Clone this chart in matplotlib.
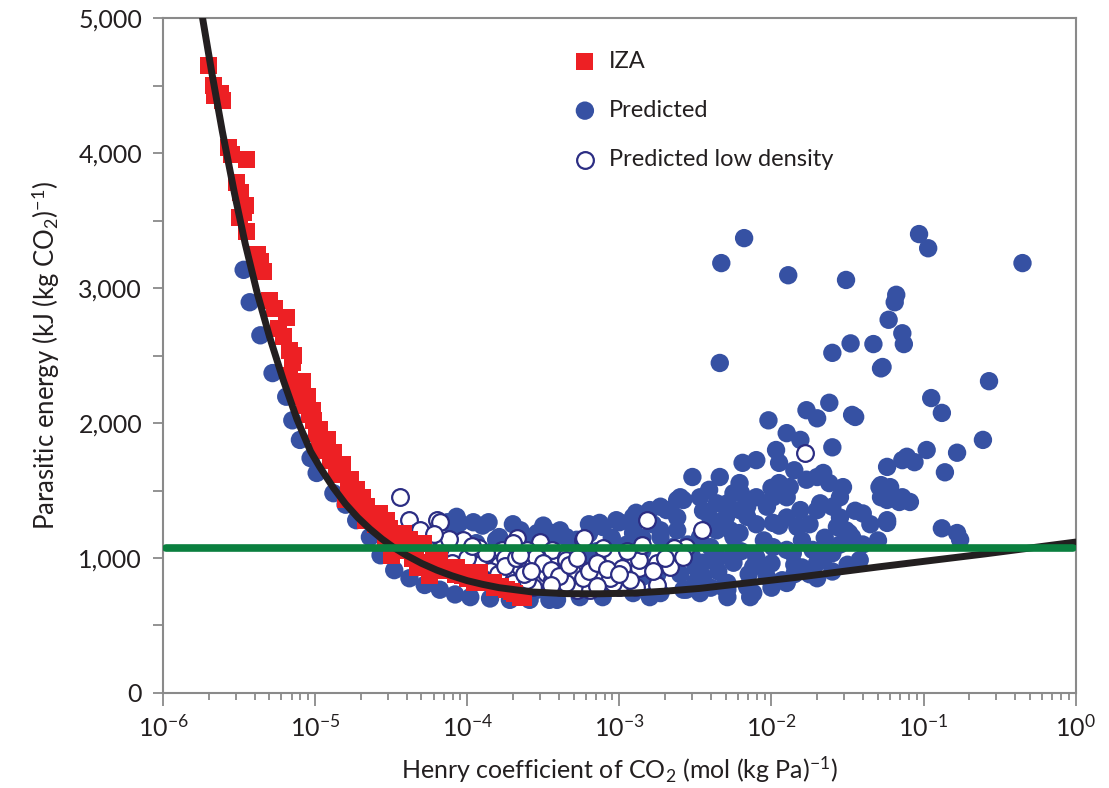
import matplotlib
matplotlib.use('Agg')
import matplotlib.pyplot as plt
import numpy as np
from matplotlib.ticker import FuncFormatter, MultipleLocator, LogLocator

plt.rcParams['font.family'] = ['Lato', 'DejaVu Sans']
plt.rcParams['mathtext.fontset'] = 'custom'
plt.rcParams['mathtext.rm'] = 'Lato'
plt.rcParams['mathtext.it'] = 'Lato:italic'
plt.rcParams['mathtext.bf'] = 'Lato:bold'

# values: log10 of Henry coefficient, parasitic energy (kJ/kg CO2)
iza_log_h = [-5.70, -5.67, -5.66, -5.61, -5.57, -5.45, -5.52, -5.49, -5.46, -5.50,
             -5.38, -5.34, -5.30, -5.19, -5.21, -5.17, -5.15, -5.17, -5.08, -5.05,
             -5.10, -5.02, -5.01, -4.97, -4.97, -4.92, -4.88, -4.82, -4.84, -4.77,
             -4.73, -4.80, -4.69, -4.66, -4.67, -4.63, -4.55, -4.53, -4.51, -4.44,
             -4.42, -4.48, -4.41, -4.44, -4.38, -4.54, -4.36, -4.33, -4.31, -4.29,
             -4.27, -4.25, -4.18, -4.18, -4.15, -4.08, -4.07, -4.00, -3.98, -3.92,
             -3.92, -3.87, -3.83, -3.82, -3.74, -3.69, -3.65, -3.63,
             -5.62, -5.55, -5.47, -5.45, -5.36, -5.27, -5.24, -5.14, -5.12, -5.07,
             -5.04, -4.99, -4.94, -4.90, -4.86, -4.78, -4.75, -4.71, -4.60, -4.58,
             -4.47, -4.40, -4.34, -4.22, -4.12, -4.03, -3.95, -3.78, -3.71, -4.50]
iza_energy = [4650, 4500, 4430, 4390, 4045, 3950, 3785, 3705, 3615, 3525,
              3245, 3120, 2910, 2780, 2640, 2540, 2445, 2355, 2305, 2195,
              2195, 2095, 2020, 1950, 1800, 1875, 1780, 1690, 1615, 1580,
              1505, 1430, 1450, 1380, 1280, 1320, 1280, 1281, 1220, 1185,
              1185, 1095, 1060, 1059, 1135, 1135, 1000, 933, 965, 1111,
              935, 874, 985, 1007, 910, 875, 933, 850, 889, 890,
              837, 815, 815, 785, 765, 740, 711, 710,
              4440, 3990, 3560, 3420, 3200, 2850, 2700, 2500, 2250, 2130,
              2060, 1920, 1830, 1720, 1640, 1520, 1460, 1400, 1250, 1330,
              1180, 1100, 1060, 1000, 930, 870, 820, 790, 750, 1020]

pred_log_h = [-5.47, -5.43, -5.36, -5.28, -5.19, -5.15, -5.10, -5.03, -4.99, -4.88,
              -4.80, -4.73, -4.64, -4.51, -4.57, -4.48, -4.38, -4.28, -4.18, -4.08,
              -3.98, -3.85, -3.72, -3.59, -3.46, -4.13, -4.07, -3.96, -3.86, -4.08,
              -3.94, -3.81, -3.61, -3.44, -3.35, -3.28, -3.65, -3.54, -3.79, -3.98,
              -3.85, -3.54, -4.13, -3.13, -3.00, -2.82, -2.69, -2.60, -2.52, -2.91,
              -2.89, -2.73, -2.62, -2.47, -2.36, -2.21, -2.10, -3.39, -2.73, -2.36,
              -2.21, -2.52, -2.39, -2.25, -2.12, -2.45, -2.29, -2.16, -2.56, -2.73,
              -2.91, -3.11, -3.26, -2.47, -2.29, -2.14, -3.41, -2.34, -2.02, -1.77,
              -1.62, -1.47, -1.27, -1.60, -1.90, -1.81, -1.97, -1.60, -2.19, -2.10,
              -2.34, -2.41, -2.21, -1.95, -1.70, -1.62, -1.53, -1.90, -1.68, -2.58,
              -2.80, -2.91, -3.02, -3.11, -2.29, -2.16, -2.03, -1.81, -1.60, -1.24,
              -1.22, -1.24, -1.51, -1.47, -1.42, -1.73, -1.90, -2.10, -2.25, -2.47,
              -2.62, -2.73, -2.91, -2.45, -2.03, -1.90, -2.12, -2.29, -2.58, -2.80,
              -1.70, -1.60, -2.54, -2.69, -1.70, -1.45, -1.95, -1.14, -1.88, -1.77,
              -1.66, -1.29, -2.25, -1.99, -1.70, -1.24, -1.14, -2.16, -1.99, -1.83,
              -1.57, -1.49, -2.27, -1.99, -1.86, -1.66, -2.32, -1.93, -2.18, -2.33,
              -1.89, -1.51, -1.03, -0.97, -0.35, -1.18, -1.19, -1.23, -1.14, -1.13,
              -1.48, -1.33, -1.28, -0.57, -0.95, -0.88, -0.61, -0.78, -0.98, -1.11,
              -0.86, -1.06, -1.28, -1.28, -1.16, -1.09, -1.24, -0.88, -0.78, -0.76,
              -3.20, -3.05, -2.95, -3.15, -2.85, -2.65, -2.40, -2.20, -2.05, -1.80,
              -1.55, -2.00, -1.80, -2.35, -2.60, -2.85, -3.05, -3.00, -1.95, -2.40,
              -2.30, -2.10, -1.90, -1.75, -1.65, -1.55, -1.45, -1.40, -1.50, -1.60,
              -1.75, -1.85, -2.05, -2.15, -2.25, -2.35, -2.50, -2.55, -2.65, -2.75,
              -2.85, -2.95, -3.05, -3.15, -3.25, -3.30, -3.45, -3.55, -3.10, -2.95,
              -2.50, -2.40, -2.00, -1.85, -1.70, -2.20, -2.45, -2.00, -1.85, -1.55,
              -1.40, -1.35, -1.30, -2.62, -2.78, -3.20, -3.50, -3.70, -3.90, -4.05]
pred_energy = [3135, 2895, 2650, 2370, 2195, 2020, 1875, 1740, 1630, 1480,
               1395, 1280, 1155, 1110, 1020, 910, 850, 800, 765, 730,
               710, 700, 690, 690, 690, 1265, 1305, 1265, 1265, 1170,
               1110, 1135, 1155, 1185, 1155, 1135, 1205, 1185, 1155, 1035,
               835, 765, 1045, 1260, 1265, 1305, 1355, 1450, 1600, 1230,
               1335, 1380, 1430, 1450, 1405, 1355, 1450, 1205, 1205, 1205,
               1185, 1005, 985, 965, 935, 860, 815, 785, 765, 740,
               740, 710, 710, 740, 710, 710, 690, 2445, 2020, 2095,
               2150, 2060, 2415, 2520, 1925, 1875, 1800, 1820, 1705, 1725,
               1600, 1505, 1555, 1555, 1600, 1555, 1525, 1450, 1405, 1430,
               1355, 1305, 1280, 1230, 1405, 1380, 1380, 1355, 1380, 1675,
               1525, 1280, 1205, 1155, 985, 1060, 1060, 1005, 1155, 1155,
               1205, 1155, 1185, 965, 860, 815, 740, 765, 765, 710,
               965, 1035, 1035, 1005, 2035, 2045, 1705, 1725, 1525, 1580,
               1630, 1525, 1480, 1450, 1355, 1430, 1450, 1305, 1260, 1230,
               1230, 1185, 1205, 1080, 1035, 985, 785, 835, 3370, 3185,
               3095, 3060, 3400, 3295, 3185, 2950, 2895, 2765, 2665, 2585,
               2590, 2585, 2405, 2310, 2185, 2075, 1875, 1780, 1800, 1750,
               1635, 1710, 1540, 1450, 1415, 1415, 1260, 1220, 1185, 1135,
               1180, 1150, 1100, 1050, 1050, 1080, 1080, 1050, 1130, 1130,
               1100, 960, 930, 900, 880, 860, 900, 780, 1240, 1290,
               1300, 1250, 1300, 1250, 1150, 1300, 1350, 1100, 950, 900,
               880, 950, 930, 880, 1050, 1000, 930, 1100, 960, 880,
               1150, 1000, 1050, 950, 1000, 1060, 1120, 1070, 800, 820,
               820, 780, 780, 880, 850, 1480, 1350, 1520, 1650, 1450,
               1330, 1250, 1130, 1300, 1250, 1250, 1240, 1250, 1240, 1260]

low_log_h = [-4.44, -4.38, -4.20, -4.33, -4.27, -4.16, -4.03, -3.85, -3.79, -3.72,
             -3.67, -3.65, -3.57, -3.52, -3.50, -3.44, -3.37, -3.31, -3.24, -3.24,
             -3.17, -3.11, -3.04, -2.93, -2.89, -2.82, -2.75, -2.67, -2.62, -2.56,
             -3.70, -3.57, -3.39, -3.28, -3.19, -3.00, -3.77, -3.61, -3.44, -3.35,
             -3.04, -4.31, -4.18, -3.70, -3.48, -3.44, -3.61, -3.23, -3.11, -2.46,
             -2.64, -2.58, -2.87, -2.98, -3.35, -3.31, -3.24, -3.06, -3.35, -2.93,
             -2.75, -2.87, -1.78, -3.95, -4.08, -4.03, -3.90, -3.92, -3.85, -3.75,
             -4.10, -4.00, -3.95, -3.88, -3.80, -3.75, -3.68, -3.63, -3.55, -3.50,
             -3.45, -3.40, -3.33, -3.28, -3.20, -3.15, -3.08, -3.00, -2.95, -2.78,
             -2.70, -2.85, -3.45, -3.15, -3.58, -3.90, -4.12, -4.22, -3.97, -3.65]
low_energy = [1450, 1280, 1280, 1195, 1135, 1080, 925, 985, 950, 890,
              1150, 935, 950, 1120, 860, 965, 910, 860, 1135, 910,
              835, 860, 1005, 965, 785, 1280, 965, 935, 1060, 1080,
              815, 785, 785, 765, 765, 785, 1060, 1060, 1060, 1005,
              815, 1205, 1265, 1110, 890, 835, 835, 1150, 1075, 1205,
              1075, 1005, 925, 925, 985, 895, 850, 850, 815, 835,
              800, 985, 1780, 1020, 1020, 1135, 960, 1075, 900, 1000,
              960, 1000, 880, 1040, 880, 940, 1000, 880, 1010, 960,
              910, 870, 950, 1000, 900, 960, 920, 880, 1050, 900,
              1000, 1100, 800, 790, 900, 850, 1140, 1180, 1090, 1020]

# fitted trend line
fit_log_h = [-5.74, -5.68, -5.61, -5.53, -5.46, -5.38, -5.30, -5.21, -5.12, -5.03,
             -4.97, -4.88, -4.80, -4.72, -4.64, -4.56, -4.48, -4.40, -4.30, -4.20,
             -4.10, -4.00, -3.90, -3.79, -3.57, -3.35, -3.13, -2.91, -2.69, -2.47,
             -2.20, -1.81, -1.29, -0.60, 0.0]
fit_energy = [5000, 4600, 4160, 3700, 3330, 2960, 2640, 2320, 2030, 1790,
              1675, 1520, 1400, 1300, 1215, 1140, 1075, 1020, 960, 910,
              868, 832, 805, 780, 748, 736, 735, 740, 755, 775,
              810, 860, 935, 1030, 1118]

target_h = [1.05e-6, 0.96]
target_energy = 1075

fig = plt.figure(figsize=(11.09, 7.88), dpi=100)
ax = fig.add_axes([0.147, 0.1206, 0.823, 0.8564])

ax.scatter(10 ** np.array(pred_log_h), pred_energy, s=175, marker='o',
           color='#3651a3', edgecolors='none', zorder=2, label='Predicted')
ax.scatter(10 ** np.array(low_log_h), low_energy, s=145, marker='o',
           facecolors='white', edgecolors='#2b2d83', linewidths=1.6, zorder=3,
           label='Predicted low density')
ax.scatter(10 ** np.array(iza_log_h), iza_energy, s=150, marker='s',
           color='#ed2024', edgecolors='none', zorder=4, label='IZA')
ax.plot(10 ** np.array(fit_log_h), fit_energy, color='#231f20', lw=5,
        solid_capstyle='round', solid_joinstyle='round', zorder=5)
ax.plot(target_h, [target_energy, target_energy], color='#0a7f3f', lw=5.5,
        solid_capstyle='round', zorder=6)

ax.set_xscale('log')
ax.set_xlim(1e-6, 1)
ax.set_ylim(0, 5000)

ax.yaxis.set_major_locator(MultipleLocator(1000))
ax.yaxis.set_minor_locator(MultipleLocator(500))
ax.yaxis.set_major_formatter(FuncFormatter(lambda v, p: f'{v:,.0f}'))
ax.xaxis.set_major_locator(LogLocator(base=10, numticks=10))
ax.xaxis.set_minor_locator(LogLocator(base=10, subs=np.arange(2, 10), numticks=10))

grey = '#8a8a8a'
for sp in ax.spines.values():
    sp.set_color(grey)
    sp.set_linewidth(1.5)
ax.tick_params(axis='both', which='both', direction='out', color=grey, width=1.3,
               labelcolor='#231f20', labelsize=18)
ax.tick_params(axis='y', which='major', length=7, pad=8)
ax.tick_params(axis='y', which='minor', length=7)
ax.tick_params(axis='x', which='major', length=9, pad=6)
ax.tick_params(axis='x', which='minor', length=5)

ax.set_xlabel('Henry coefficient of CO$_2$ (mol (kg Pa)$^{-1}$)', fontsize=18,
              color='#231f20', labelpad=10)
ax.set_ylabel('Parasitic energy (kJ (kg CO$_2$)$^{-1}$)', fontsize=18.5,
              color='#231f20', labelpad=12)

handles, labels = ax.get_legend_handles_labels()
order = [2, 0, 1]
ax.legend([handles[i] for i in order], [labels[i] for i in order],
          loc='upper left', bbox_to_anchor=(0.426, 0.98), frameon=False,
          fontsize=17, labelspacing=1.2, handlelength=1.2, handletextpad=0.4,
          borderpad=0.3, labelcolor='#231f20')

fig.savefig('out.png', dpi=100)
